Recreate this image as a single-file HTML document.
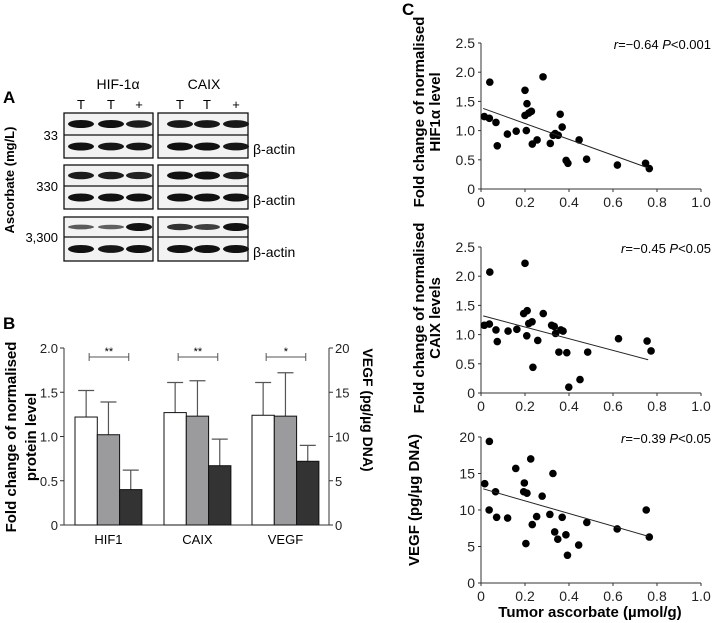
<!DOCTYPE html>
<html><head><meta charset="utf-8"><style>
body{margin:0;background:#fff;}
svg{display:block;font-family:"Liberation Sans",Arial,sans-serif;}
</style></head><body>
<svg id="fig" width="728" height="623" viewBox="0 0 728 623"></svg>
<script>
// ---- Bar chart data (panel B) ----
const barCategories = ["HIF1","CAIX","VEGF"];
const barMeans = [[1.22,1.02,0.40],[1.27,1.23,0.67],[12.4,12.3,7.2]];
const barErrTops = [[1.52,1.39,0.62],[1.61,1.63,0.97],[16.1,17.2,9.0]];
const barLeftTicks = ["0","0.5","1.0","1.5","2.0"];
const barRightTicks = ["0","5","10","15","20"];
const sigMarks = ["**","**","*"];
// ---- Scatter data (panel C) ----
const ascHIF = [0.015,0.038,0.04,0.068,0.074,0.12,0.16,0.2,0.2,0.206,0.209,0.217,0.229,0.233,0.255,0.282,0.315,0.328,0.337,0.351,0.36,0.369,0.387,0.395,0.446,0.48,0.62,0.748,0.765];
const valHIF = [1.24,1.21,1.83,1.14,0.74,0.94,0.99,1.26,1.69,1.0,1.46,1.3,1.33,0.77,0.84,1.92,0.78,0.92,0.95,0.92,1.28,1.06,0.49,0.44,0.84,0.51,0.41,0.44,0.35];
const fitHIF = [[0.01,1.38],[0.76,0.36]];
const ascCAIX = [0.015,0.038,0.04,0.068,0.074,0.123,0.163,0.2,0.194,0.208,0.21,0.217,0.232,0.236,0.258,0.283,0.321,0.333,0.339,0.354,0.363,0.373,0.39,0.399,0.45,0.485,0.625,0.755,0.773];
const valCAIX = [1.16,1.18,2.07,1.08,0.88,1.06,1.09,2.22,1.36,0.98,1.41,1.19,1.22,0.44,0.9,1.36,1.16,1.14,1.02,0.7,1.08,1.06,0.69,0.1,0.23,0.7,0.93,0.89,0.72];
const fitCAIX = [[0.01,1.32],[0.76,0.57]];
const ascVEGF = [0.017,0.037,0.038,0.066,0.071,0.121,0.158,0.197,0.194,0.204,0.209,0.226,0.233,0.253,0.278,0.313,0.327,0.335,0.349,0.369,0.386,0.393,0.444,0.481,0.619,0.751,0.765];
const valVEGF = [13.6,10.0,19.4,12.5,9.0,8.9,15.7,13.7,12.5,5.4,12.3,17.0,8.0,9.1,11.9,9.4,15.0,7.0,6.0,9.0,6.6,3.8,5.2,8.3,7.4,10.0,6.3];
const fitVEGF = [[0.01,12.9],[0.76,6.4]];
const xTicks = ["0","0.2","0.4","0.6","0.8","1.0"];

const NS="http://www.w3.org/2000/svg";
const svg=document.getElementById('fig');
function mk(tag,attrs,parent){const e=document.createElementNS(NS,tag);for(const k in attrs)e.setAttribute(k,attrs[k]);(parent||svg).appendChild(e);return e;}
function txt(s,attrs,parent){const e=mk('text',attrs,parent);e.textContent=s;return e;}

// ---------- Panel A (western blot) ----------
const gA=mk('g',{});


txt('A',{x:3,y:103,'font-size':17,'font-weight':'bold'},gA);
txt('HIF-1α',{x:118,y:89,'font-size':14,'text-anchor':'middle'},gA);
txt('CAIX',{x:204,y:89,'font-size':14,'text-anchor':'middle'},gA);
[[81,'T'],[111,'T'],[139,'+'],[180,'T'],[207,'T'],[236,'+']].forEach(l=>txt(l[1],{x:l[0],y:109,'font-size':13,'text-anchor':'middle'},gA));
const rows=[[113,135,158,'33'],[165,186,209,'330'],[217,237,261,'3,300']];
const intens=[[[1,1,0.9],[1,0.95,0.95],[0.95,0.95,0.95],[1,1,0.95]],[[0.9,0.9,0.85],[1,1,1],[1,1,0.9],[1,1,1]],[[0.35,0.3,1],[1,0.95,1],[0.7,0.6,1],[1,1,1]]];
rows.forEach((r,ri)=>{
  [[64,153,[81,111,139]],[158,248,[180,207,236]]].forEach((b,bi)=>{
    mk('rect',{x:b[0],y:r[0],width:b[1]-b[0],height:r[2]-r[0],fill:'#f2f2f2',stroke:'#111','stroke-width':1.3},gA);
    mk('line',{x1:b[0],x2:b[1],y1:r[1],y2:r[1],stroke:'#111','stroke-width':1.3},gA);
    b[2].forEach((cx,li)=>{
      const top=intens[ri][bi*2][li], bot=intens[ri][bi*2+1][li];
      mk('ellipse',{cx:cx,cy:(r[0]+r[1])/2,rx:13,ry:1.5+2.5*top,fill:'#111',opacity:0.5+0.5*top},gA);
      mk('ellipse',{cx:cx,cy:(r[1]+r[2])/2,rx:13,ry:1.5+2.5*bot,fill:'#111',opacity:0.5+0.5*bot},gA);
    });
  });
  txt(r[3],{x:58,y:r[1]+5,'font-size':13,'text-anchor':'end'},gA);
  txt('β-actin',{x:253,y:r[2]-4,'font-size':14},gA);
});
txt('Ascorbate (mg/L)',{x:0,y:0,'font-size':13,'font-weight':'bold','text-anchor':'middle',transform:'translate(14,180) rotate(-90)'},gA);

// ---------- Panel B (bar chart) ----------
const gB=mk('g',{});


const bY0=525,bY1=348,bXL=64,bXR=329;
const yL=v=>bY0-(v/2)*(bY0-bY1);
const yR=v=>bY0-(v/20)*(bY0-bY1);
txt('B',{x:3,y:329,'font-size':17,'font-weight':'bold'},gB);
mk('line',{x1:bXL,x2:bXL,y1:bY1,y2:bY0,stroke:'#333'},gB);
mk('line',{x1:bXR,x2:bXR,y1:bY1,y2:bY0,stroke:'#333'},gB);
mk('line',{x1:bXL,x2:bXR,y1:bY0,y2:bY0,stroke:'#333'},gB);
barLeftTicks.forEach((t,i)=>{const y=yL(i*0.5);
  mk('line',{x1:bXL-4,x2:bXL,y1:y,y2:y,stroke:'#333'},gB);
  const e=txt(t,{x:bXL-6,y:y+5,'font-size':13,'text-anchor':'end',fill:'#222'},gB);
  });
barRightTicks.forEach((t,i)=>{const y=yR(i*5);
  mk('line',{x1:bXR,x2:bXR+4,y1:y,y2:y,stroke:'#333'},gB);
  const e=txt(t,{x:bXR+6,y:y+5,'font-size':13,fill:'#222'},gB);
  });
const groupStart=[75,164,252],bw=22.3,fills=['#fff','#9b9b9d','#333'];
barCategories.forEach((c,gi)=>{
  const sc=gi===2?yR:yL;
  barMeans[gi].forEach((v,si)=>{
    const x=groupStart[gi]+si*bw, cx=x+bw/2;
    const et=sc(barErrTops[gi][si]);
    mk('line',{x1:cx,x2:cx,y1:et,y2:sc(v),stroke:'#555','stroke-width':1.2},gB);
    mk('line',{x1:cx-8,x2:cx+8,y1:et,y2:et,stroke:'#555','stroke-width':1.2},gB);
    const r=mk('rect',{x:x,y:sc(v),width:bw,height:bY0-sc(v),fill:fills[si],stroke:'#111','stroke-width':1},gB);
    
    
  });
  const x1=groupStart[gi]+bw/2+3,x2=groupStart[gi]+2.5*bw-2;
  mk('path',{d:`M${x1},353V361M${x1},357H${x2}M${x2},353V361`,stroke:'#555',fill:'none'},gB);
  txt(sigMarks[gi],{x:(x1+x2)/2,y:355,'font-size':11,'text-anchor':'middle'},gB);
  const l=txt(c,{x:groupStart[gi]+1.5*bw,y:544,'font-size':13,'text-anchor':'middle'},gB);
  
});
const yt1=txt('Fold change of normalised',{x:0,y:16,'font-size':15,'font-weight':'bold','text-anchor':'middle',transform:'translate(0,437) rotate(-90)'},gB);

txt('protein level',{x:0,y:36,'font-size':15,'font-weight':'bold','text-anchor':'middle',transform:'translate(0,437) rotate(-90)'},gB);
const yrt=txt('VEGF (pg/µg DNA)',{x:0,y:0,'font-size':14,'font-weight':'bold','text-anchor':'middle',transform:'translate(363,410) rotate(90)'},gB);


// ---------- Panel C (scatter plots) ----------
txt('C',{x:402,y:15,'font-size':17,'font-weight':'bold'});
const sX0=481,sX1=701;
const xs=v=>sX0+v*(sX1-sX0);
function scatter(name,yTop,yBot,maxV,tickVals,ascs,vals,fit,stat,title1,title2,titleY){
  const g=mk('g',{});
  
  
  const ys=v=>yBot-(v/maxV)*(yBot-yTop);
  mk('line',{x1:sX0,x2:sX0,y1:yTop,y2:yBot,stroke:'#333'},g);
  mk('line',{x1:sX0,x2:sX1,y1:yBot,y2:yBot,stroke:'#333'},g);
  tickVals.forEach(t=>{const y=ys(parseFloat(t));
    mk('line',{x1:sX0-3,x2:sX0,y1:y,y2:y,stroke:'#333'},g);
    txt(t,{x:sX0-6,y:y+5,'font-size':14,'text-anchor':'end',fill:'#222'},g);});
  xTicks.forEach(t=>{const x=xs(parseFloat(t));
    mk('line',{x1:x,x2:x,y1:yBot,y2:yBot+3,stroke:'#333'},g);
    txt(t,{x:x,y:yBot+18,'font-size':14,'text-anchor':'middle',fill:'#222'},g);});
  ascs.forEach((a,i)=>{const c=mk('circle',{cx:xs(a),cy:ys(vals[i]),r:3.8,fill:'#000'},g);
    });
  const fl=mk('line',{x1:xs(fit[0][0]),y1:ys(fit[0][1]),x2:xs(fit[1][0]),y2:ys(fit[1][1]),stroke:'#222','stroke-width':1},g);
  
  const st=mk('text',{x:711,y:yTop+6,'font-size':13,'text-anchor':'end'},g);
  st.innerHTML='<tspan font-style="italic">r</tspan>=−'+stat[0]+' <tspan font-style="italic">P</tspan>&lt;'+stat[1];
  
  if(title2){
    txt(title1,{x:0,y:0,'font-size':15,'font-weight':'bold','text-anchor':'middle',transform:`translate(424,${titleY}) rotate(-90)`},g);
    txt(title2,{x:0,y:0,'font-size':15,'font-weight':'bold','text-anchor':'middle',transform:`translate(440,${titleY}) rotate(-90)`},g);
  } else {
    txt(title1,{x:0,y:0,'font-size':15,'font-weight':'bold','text-anchor':'middle',transform:`translate(419,${titleY}) rotate(-90)`},g);
  }
}
scatter('scatter-hif1a',43,189,2.5,["0","0.5","1.0","1.5","2.0","2.5"],ascHIF,valHIF,fitHIF,['0.64','0.001'],'Fold change of normalised','HIF1α level',112);
scatter('scatter-caix',247,393,2.5,["0","0.5","1.0","1.5","2.0","2.5"],ascCAIX,valCAIX,fitCAIX,['0.45','0.05'],'Fold change of normalised','CAIX levels',318);
scatter('scatter-vegf',437,583,20,["0","5","10","15","20"],ascVEGF,valVEGF,fitVEGF,['0.39','0.05'],'VEGF (pg/µg DNA)',null,500);
const xt=txt('Tumor ascorbate (µmol/g)',{x:590,y:617,'font-size':15,'font-weight':'bold','text-anchor':'middle'});

</script>
</body></html>
